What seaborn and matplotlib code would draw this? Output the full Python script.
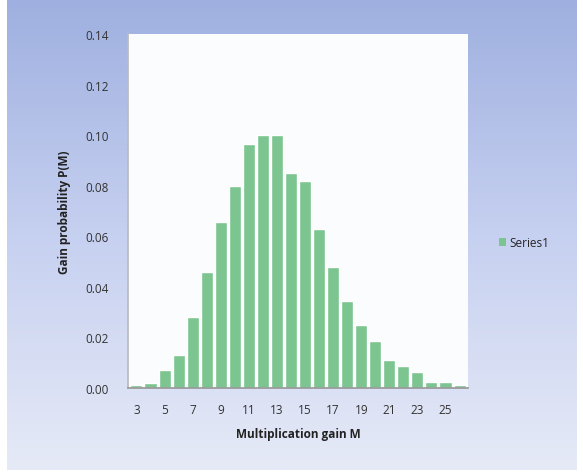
import numpy as np
import pandas as pd
import matplotlib
matplotlib.use("Agg")
import matplotlib.pyplot as plt
import seaborn as sns
from matplotlib.colors import LinearSegmentedColormap

gain_m = list(range(3, 27))
probability = [0.001, 0.002, 0.007, 0.013, 0.028, 0.046, 0.0655, 0.080, 0.0965, 0.100,
               0.100, 0.085, 0.082, 0.063, 0.048, 0.0345, 0.025, 0.0185, 0.011, 0.0086,
               0.0062, 0.0025, 0.0025, 0.001]
tick_labels = [str(v) for v in range(3, 26, 2)]
series_name = "Series1"

sns.set_theme(style="white")
plt.rcParams['font.family'] = ['Open Sans', 'DejaVu Sans']

fig = plt.figure(figsize=(5.83, 4.77), dpi=100)
fig.patch.set_facecolor("white")

# gradient background
bg = fig.add_axes([0.012, 0.012, 0.976, 0.985], zorder=-10)
grad = np.linspace(0, 1, 256).reshape(-1, 1)
cmap = LinearSegmentedColormap.from_list("bg", ["#9fb0e0", "#c6d0f0", "#e6eaf7"])
bg.imshow(grad, aspect="auto", cmap=cmap, extent=[0, 1, 0, 1], origin="upper")
bg.axis("off")

ax = fig.add_axes([0.2196, 0.1845, 0.5831, 0.7421])
ax.set_facecolor("#fbfcfe")
df = pd.DataFrame({"M": gain_m, "P": probability})
sns.barplot(data=df, x="M", y="P", color="#7cc590", saturation=1, width=0.86,
            ax=ax, label=series_name)
ax.set_xlim(-0.6, len(gain_m) - 0.4)
ax.set_ylim(0, 0.14)
ax.set_yticks(np.arange(0, 0.141, 0.02))
ax.set_yticklabels([f"{v:.2f}" for v in np.arange(0, 0.141, 0.02)], fontsize=8.5, color="#333333")
ax.set_xticks(range(0, len(gain_m), 2))
ax.set_xticklabels(tick_labels, fontsize=8.5, color="#333333")
ax.tick_params(axis="x", length=3, color="#999999", pad=8)
ax.tick_params(axis="y", length=0, pad=14)
for s in ["top", "right"]:
    ax.spines[s].set_visible(False)
ax.spines["left"].set_color("#bbbbbb")
ax.spines["bottom"].set_color("#999999")
ax.set_xlabel("Multiplication gain M", fontsize=8.5, fontweight="bold", color="#222222", labelpad=8)
ax.set_ylabel("Gain probability P(M)", fontsize=8.5, fontweight="bold", color="#222222", labelpad=10)
leg = ax.legend(loc="center left", bbox_to_anchor=(1.06, 0.41), frameon=False,
                fontsize=8.5, handlelength=0.6, handleheight=0.6, handletextpad=0.3)
for h in leg.legend_handles:
    h.set_edgecolor("none")
fig.savefig("out.png", dpi=100)
